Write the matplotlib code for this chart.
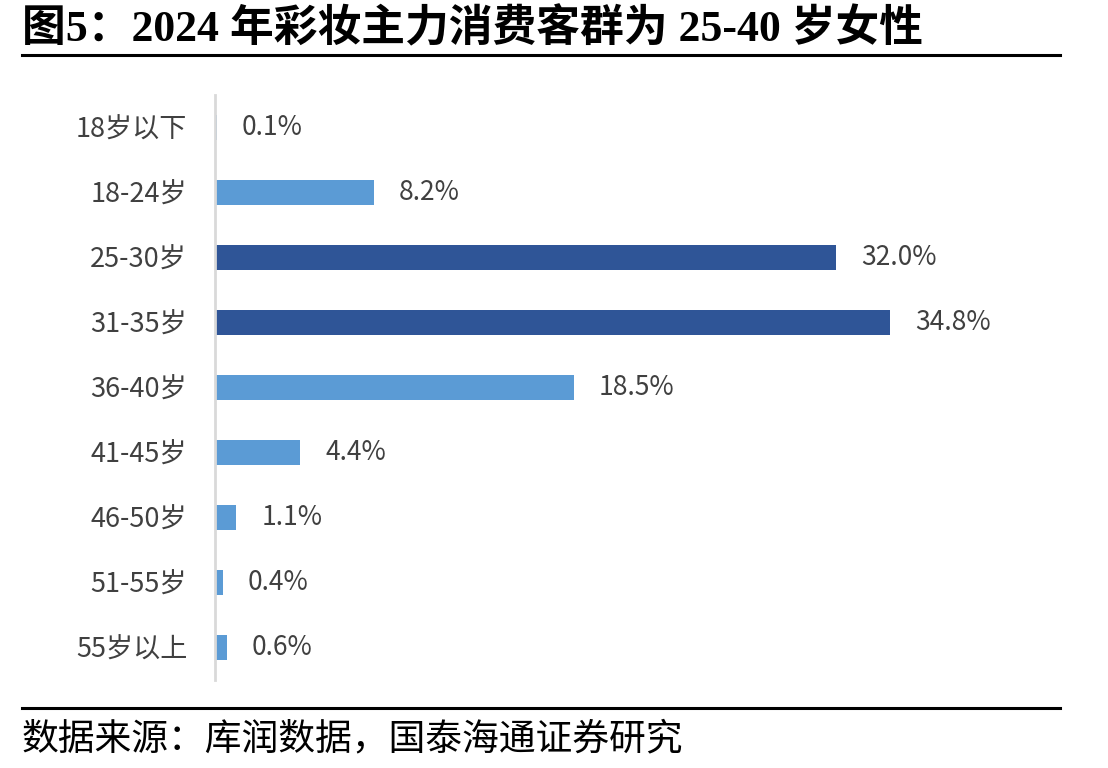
import matplotlib
matplotlib.use("Agg")
import matplotlib.pyplot as plt

plt.rcParams["font.family"] = ["Noto Sans CJK SC", "DejaVu Sans"]

categories = ["18岁以下", "18-24岁", "25-30岁", "31-35岁", "36-40岁",
              "41-45岁", "46-50岁", "51-55岁", "55岁以上"]
shares = [0.1, 8.2, 32.0, 34.8, 18.5, 4.4, 1.1, 0.4, 0.6]
highlight = ["25-30岁", "31-35岁"]

dark = "#2F5597"
light = "#5B9BD5"
text_col = "#404040"

fig = plt.figure(figsize=(11.08, 7.68), dpi=100)
W, H = 1108, 768
ax = fig.add_axes([215 / W, 1 - 680 / H, (1060 - 215) / W, (680 - 95) / H])

colors = [dark if c in highlight else light for c in categories]
y = list(range(len(categories)))
ax.barh(y, shares, height=0.37, color=colors)
ax.set_ylim(len(categories) - 0.5, -0.5)
ax.set_xlim(0, (1060 - 215) / 19.4)

for yi, v in zip(y, shares):
    ax.annotate(f"{v:.1f}%", (v, yi), xytext=(18, 0), textcoords="offset points",
                va="center", ha="left", fontsize=19, color=text_col)

ax.set_yticks(y)
ax.set_yticklabels(categories, fontsize=19.5, color=text_col)
ax.tick_params(axis="y", length=0, pad=20)
ax.set_xticks([])
for s in ["top", "right", "bottom"]:
    ax.spines[s].set_visible(False)
ax.spines["left"].set_color("#D9D9D9")
ax.spines["left"].set_linewidth(2)

# title and source
fig.text(22 / W, 1 - 29 / H, "图5：2024 年彩妆主力消费客群为 25-40 岁女性",
         family=["Liberation Serif", "Noto Sans CJK SC"], fontweight="bold",
         fontsize=31.5, va="center", ha="left", color="black")
fig.add_artist(plt.Line2D([22 / W, 1060 / W], [1 - 55 / H, 1 - 55 / H],
                          color="black", lw=2.2))
fig.add_artist(plt.Line2D([22 / W, 1060 / W], [1 - 708 / H, 1 - 708 / H],
                          color="black", lw=2.2))
fig.text(22 / W, 1 - 739 / H, "数据来源：库润数据，国泰海通证券研究",
         fontsize=26.5, va="center", ha="left", color="black")

fig.savefig("out.png", dpi=100)
